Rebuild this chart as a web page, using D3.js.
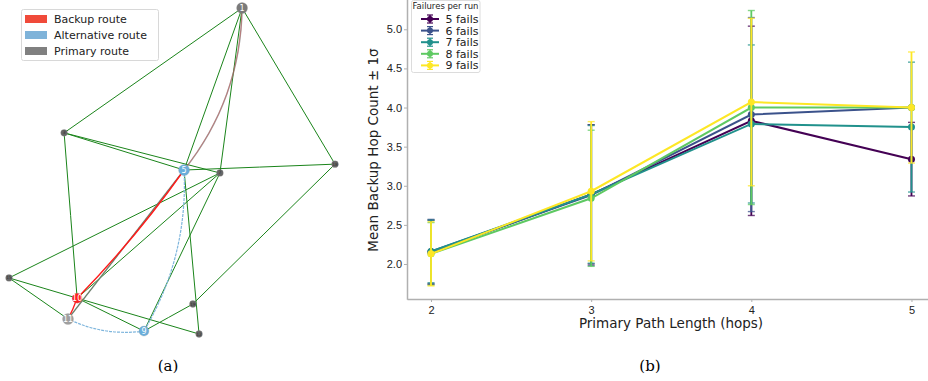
<!DOCTYPE html>
<html>
<head>
	<title>Backup routes</title>
	<style type="text/css">
		body { margin: 0; background: #fff; }
		svg { display: block; font-family: "DejaVu Sans", sans-serif; }
		.green { stroke: #1a841a; stroke-width: 1; fill: none; }
		.spine path.domain, .spine line { stroke: #b0b0b0; }
		.spine path.domain { stroke-width: 1.5; }
		.spine text { font-size: 11px; fill: #222; }
	</style>
</head>
<body>
	<div id="fig"></div>
	<script src="https://cdn.jsdelivr.net/npm/d3@7"></script>
	<script type="text/javascript">
		// ---- panel (a): topology, layout positions in unit square
		var nodeIds = [1, 3, 5, 7, 18, 15, 10, 11, 9, 19, 12];
		var nodeX = [0.715, 0.169, 0.537, 0.647, 1.0, 0.0, 0.209, 0.181, 0.414, 0.564, 0.583];
		var nodeY = [1.0, 0.617, 0.503, 0.494, 0.521, 0.172, 0.110, 0.046, 0.009, 0.092, 0.0];
		var links = [[1, 3], [1, 5], [1, 7], [1, 18], [3, 5], [3, 7], [3, 10], [5, 18], [5, 12],
			[7, 15], [7, 10], [7, 9], [18, 19], [19, 9], [15, 10], [15, 11], [10, 12], [10, 9], [5, 11]];
		var primaryRoute = [1, 5, 11];
		var backupRoute = [1, 5, 10, 11];
		var altRoute = [1, 5, 9, 11];
		var legendA = ["Backup route", "Alternative route", "Primary route"];

		// ---- panel (b): mean backup hop count
		var hops = [2, 3, 4, 5];
		var seriesNames = ["5 fails", "6 fails", "7 fails", "8 fails", "9 fails"];
		var mean5 = [2.15, 2.89, 3.83, 3.34], sd5 = [0.41, 0.89, 1.21, 0.47];
		var mean6 = [2.16, 2.88, 3.91, 4.00], sd6 = [0.41, 0.90, 1.24, 0];
		var mean7 = [2.16, 2.89, 3.79, 3.75], sd7 = [0.40, 0.88, 1.01, 0.83];
		var mean8 = [2.13, 2.84, 4.00, 4.00], sd8 = [0.40, 0.87, 1.24, 0];
		var mean9 = [2.13, 2.93, 4.07, 4.00], sd9 = [0.41, 0.89, 1.07, 0.71];
		var yTicks = [2.0, 2.5, 3.0, 3.5, 4.0, 4.5, 5.0];

		var colors = ["#440154", "#3b528b", "#21918c", "#5ec962", "#fde725"];
		var means = [mean5, mean6, mean7, mean8, mean9],
			sds = [sd5, sd6, sd7, sd8, sd9];

		var width = 928, height = 381;
		var svg = d3.select('#fig').append('svg')
			.attr('width', width).attr('height', height);

		// ===== panel (a)
		var gx = d3.scaleLinear().domain([0, 1]).range([9, 335]),
			gy = d3.scaleLinear().domain([0, 1]).range([334, 8]);

		var pos = {};
		nodeIds.forEach(function(id, i) { pos[id] = [gx(nodeX[i]), gy(nodeY[i])]; });

		function arc(a, b, rad) {
			var p = d3.path(), A = pos[a], B = pos[b];
			var dx = B[0] - A[0], dy = B[1] - A[1];
			p.moveTo(A[0], A[1]);
			p.quadraticCurveTo((A[0] + B[0]) / 2 + rad * dy, (A[1] + B[1]) / 2 - rad * dx, B[0], B[1]);
			return p.toString();
		}
		function hopsOf(route) {
			return d3.pairs(route);
		}

		var ga = svg.append('g');
		ga.selectAll('path.green').data(links).enter().append('path')
			.attr('class', 'green')
			.attr('d', function(d) { return arc(d[0], d[1], 0); });

		// primary route (grey)
		ga.selectAll('path.prim').data(hopsOf(primaryRoute)).enter().append('path')
			.attr('class', 'prim')
			.attr('fill', 'none').attr('stroke', '#808080').attr('stroke-opacity', 0.75)
			.attr('stroke-width', 1.5)
			.attr('d', function(d, i) { return arc(d[0], d[1], i == 0 ? 0.17 : 0); });
		// alternative (blue dashed)
		ga.selectAll('path.alt').data(hopsOf(altRoute).slice(1)).enter().append('path')
			.attr('class', 'alt')
			.attr('fill', 'none').attr('stroke', '#7fb6dd').attr('stroke-width', 1.2)
			.attr('stroke-dasharray', '3,1')
			.attr('d', function(d) { return arc(d[0], d[1], 0.15); });
		// backup (red)
		ga.selectAll('path.bak').data(hopsOf(backupRoute)).enter().append('path')
			.attr('class', 'bak')
			.attr('fill', 'none').attr('stroke', '#ff1a1a')
			.attr('stroke-width', function(d, i) { return i == 0 ? 0.7 : 1.4; })
			.attr('stroke-opacity', function(d, i) { return i == 0 ? 0.4 : 1; })
			.attr('d', function(d, i) { return arc(d[0], d[1], i == 0 ? 0.17 : 0.04); });

		function nodeColor(id) {
			if (id == 5 || id == 9) return '#6aaedb';
			if (id == 10) return '#ff2020';
			if (id == 11) return '#a0a0a0';
			if (id == 1) return '#7a7a7a';
			return '#666';
		}
		function nodeR(id) {
			if (id == 1 || id == 5 || id == 11) return 5.5;
			if (id == 9 || id == 10) return 5;
			return 3.4;
		}
		var nodes = ga.selectAll('g.node').data(nodeIds).enter().append('g')
			.attr('transform', function(d) { return 'translate(' + pos[d].join(',') + ')'; });
		nodes.append('circle')
			.attr('r', nodeR)
			.attr('fill', nodeColor)
			.attr('stroke', '#999')
			.attr('stroke-opacity', 0.5)
			.attr('stroke-width', 0.5);
		nodes.append('text')
			.attr('text-anchor', 'middle')
			.attr('dy', function(d) { return nodeR(d) > 4 ? 2.8 : 1.5; })
			.attr('font-size', function(d) { return nodeR(d) > 4 ? 8 : 4.5; })
			.attr('fill', function(d) { return nodeR(d) > 4 ? '#fff' : '#333'; })
			.text(function(d) { return d; });

		// legend (a)
		var lg = svg.append('g');
		lg.append('rect').attr('x', 21.5).attr('y', 9.5).attr('width', 137).attr('height', 51)
			.attr('rx', 2).attr('fill', '#fff').attr('stroke', '#d8d8d8');
		var patchColors = ['#f04a3a', '#7fb3d9', '#808080'];
		legendA.forEach(function(t, i) {
			lg.append('rect').attr('x', 25).attr('y', 15 + i * 16).attr('width', 22).attr('height', 8)
				.attr('fill', patchColors[i]);
			lg.append('text').attr('x', 54).attr('y', 23 + i * 16)
				.attr('font-size', 11).attr('fill', '#222').text(t);
		});

		svg.append('text').attr('x', 168).attr('y', 371).attr('text-anchor', 'middle')
			.attr('font-family', '"DejaVu Serif", serif').attr('font-size', 15).text('(a)');

		// ===== panel (b)
		var x = d3.scaleLinear().domain([1.85, 5.15]).range([407, 935.5]),
			y = d3.scaleLinear().domain([1.55, 5.4]).range([299.2, -2]);

		svg.append('g').attr('class', 'spine')
			.attr('transform', 'translate(0,299)')
			.call(d3.axisBottom(x).tickValues(hops).tickFormat(d3.format('d')).tickSize(3).tickSizeOuter(0).tickPadding(4));
		svg.append('g').attr('class', 'spine')
			.attr('transform', 'translate(407,0)')
			.call(d3.axisLeft(y).tickValues(yTicks).tickFormat(d3.format('.1f')).tickSize(3).tickSizeOuter(0).tickPadding(2));

		svg.append('text').attr('transform', 'translate(378,150) rotate(-90)')
			.attr('text-anchor', 'middle').attr('font-size', 13.5).attr('fill', '#222')
			.text('Mean Backup Hop Count \u00b1 1\u03c3');
		svg.append('text').attr('x', 671).attr('y', 328).attr('text-anchor', 'middle')
			.attr('font-size', 13.5).attr('fill', '#222').text('Primary Path Length (hops)');
		svg.append('text').attr('x', 650).attr('y', 371).attr('text-anchor', 'middle')
			.attr('font-family', '"DejaVu Serif", serif').attr('font-size', 15).text('(b)');

		var line = d3.line().x(function(d) { return x(d[0]); }).y(function(d) { return y(d[1]); });
		var plot = svg.append('g');

		means.forEach(function(m, s) {
			var c = colors[s];
			var pts = hops.map(function(h, i) { return [h, m[i], sds[s][i]]; });
			var g = plot.append('g');
			var eb = g.selectAll('g.eb').data(pts.filter(function(p) { return p[2] > 0; })).enter().append('g');
			eb.append('line')
				.attr('x1', function(p) { return x(p[0]); }).attr('x2', function(p) { return x(p[0]); })
				.attr('y1', function(p) { return y(p[1] - p[2]); }).attr('y2', function(p) { return y(p[1] + p[2]); })
				.attr('stroke', c).attr('stroke-width', 1.8);
			[-1, 1].forEach(function(k) {
				eb.append('line')
					.attr('x1', function(p) { return x(p[0]) - 3.5; }).attr('x2', function(p) { return x(p[0]) + 3.5; })
					.attr('y1', function(p) { return y(p[1] + k * p[2]); }).attr('y2', function(p) { return y(p[1] + k * p[2]); })
					.attr('stroke', c).attr('stroke-width', 1.4).attr('stroke-opacity', 0.75);
			});
			g.append('path').attr('d', line(pts)).attr('fill', 'none')
				.attr('stroke', c).attr('stroke-width', 2);
			g.selectAll('circle').data(pts).enter().append('circle')
				.attr('cx', function(p) { return x(p[0]); }).attr('cy', function(p) { return y(p[1]); })
				.attr('r', 3.5).attr('fill', c);
		});

		// legend (b)
		var lb = svg.append('g');
		lb.append('rect').attr('x', 411.5).attr('y', 0.5).attr('width', 68.5).attr('height', 72)
			.attr('rx', 2).attr('fill', '#fff').attr('stroke', '#dcdcdc');
		lb.append('text').attr('x', 412.5).attr('y', 9).attr('font-size', 9).attr('fill', '#222')
			.attr('textLength', 66).attr('lengthAdjust', 'spacingAndGlyphs').text('Failures per run');
		seriesNames.forEach(function(t, i) {
			var cy = 19 + i * 11.6, c = colors[i];
			lb.append('line').attr('x1', 421).attr('x2', 439).attr('y1', cy).attr('y2', cy)
				.attr('stroke', c).attr('stroke-width', 2);
			lb.append('line').attr('x1', 430).attr('x2', 430).attr('y1', cy - 4).attr('y2', cy + 4)
				.attr('stroke', c).attr('stroke-width', 1.5);
			[-4, 4].forEach(function(k) {
				lb.append('line').attr('x1', 427).attr('x2', 433).attr('y1', cy + k).attr('y2', cy + k)
					.attr('stroke', c).attr('stroke-width', 1.2);
			});
			lb.append('circle').attr('cx', 430).attr('cy', cy).attr('r', 3).attr('fill', c);
			lb.append('text').attr('x', 445.5).attr('y', cy + 4).attr('font-size', 11)
				.attr('fill', '#222').text(t);
		});
	</script>
</body>
</html>
